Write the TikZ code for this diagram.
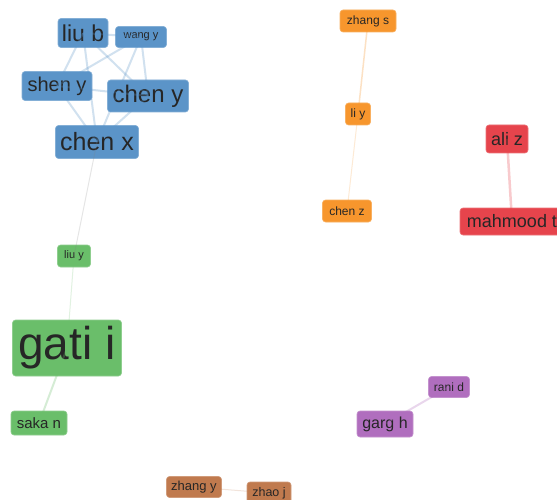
\documentclass[tikz,border=0pt]{standalone}
\usepackage{fontspec}
\setmainfont{Liberation Sans}
\usepackage{tikz}

\definecolor{clblue}{RGB}{91,148,200}
\definecolor{clgreen}{RGB}{106,190,106}
\definecolor{clorange}{RGB}{247,150,45}
\definecolor{clred}{RGB}{230,68,76}
\definecolor{clpurple}{RGB}{176,110,190}
\definecolor{clbrown}{RGB}{192,122,78}
\newcommand{\aufs}[1]{\fontsize{#1}{#1}\selectfont}

\begin{document}
\begin{tikzpicture}[x=1pt,y=-1pt,
	au/.style={fill=#1, draw=#1!75!white, line width=0.6pt, rounded corners=3pt,
		inner sep=0pt, text=black!85},
	lk/.style={draw=#1, line width=2pt, opacity=0.28},
	flk/.style={draw=#1, line width=1pt, opacity=0.2}]
				\clip (0,0) rectangle (557,500);
				\fill[white] (0,0) rectangle (557,500);
				% blue cluster
				\node[au=clblue, minimum width=50, minimum height=29, font=\aufs{23}] (liub) at (83,33) {liu b};
				\node[au=clblue, minimum width=51, minimum height=21, font=\aufs{11}] (wangy) at (141,37) {wang y};
				\node[au=clblue, minimum width=70, minimum height=29, font=\aufs{20}] (sheny) at (57,86) {shen y};
				\node[au=clblue, minimum width=81, minimum height=32, font=\aufs{24}] (cheny) at (148,96) {chen y};
				\node[au=clblue, minimum width=83, minimum height=33, font=\aufs{25}] (chenx) at (97,142) {chen x};
				% orange
				\node[au=clorange, minimum width=56, minimum height=22, font=\aufs{12}] (zhangs) at (368,21) {zhang s};
				\node[au=clorange, minimum width=25, minimum height=22, font=\aufs{12}] (liyy) at (358,114) {li y};
				\node[au=clorange, minimum width=49, minimum height=22, font=\aufs{12}] (chenz) at (347,211) {chen z};
				% red
				\node[au=clred, minimum width=42, minimum height=28, font=\aufs{18}] (aliz) at (507,139) {ali z};
				\node[au=clred, minimum width=104, minimum height=27, font=\aufs{18}] (mahmoodt) at (512,221.5) {mahmood t};
				% green
				\node[au=clgreen, minimum width=33, minimum height=22, font=\aufs{11}] (liuy) at (74,256) {liu y};
				\node[au=clgreen, minimum width=109, minimum height=56, font=\aufs{46}] (gatii) at (67,348) {gati i};
				\node[au=clgreen, minimum width=56, minimum height=24, font=\aufs{15}] (sakan) at (39,423) {saka n};
				% purple
				\node[au=clpurple, minimum width=41, minimum height=21, font=\aufs{12}] (ranid) at (449,387) {rani d};
				\node[au=clpurple, minimum width=56, minimum height=26, font=\aufs{16}] (gargh) at (385,424) {garg h};
				% brown
				\node[au=clbrown, minimum width=55, minimum height=21, font=\aufs{13}] (zhangy) at (194,487) {zhang y};
				\node[au=clbrown, minimum width=44, minimum height=22, font=\aufs{12.5}] (zhaoj) at (269,493) {zhao j};

				\foreach \a/\b in {liub/wangy, liub/sheny, liub/cheny, liub/chenx, wangy/sheny, wangy/cheny,
					wangy/chenx, sheny/cheny, sheny/chenx, cheny/chenx}
					\draw[lk=clblue] (\a.center) -- (\b.center);
				\draw[flk=gray] (chenx.center) -- (liuy.center);
				\draw[flk=clgreen] (liuy.center) -- (gatii.center);
				\draw[lk=clgreen] (gatii.center) -- (sakan.center);
				\draw[lk=clorange, line width=1.5pt] (zhangs.center) -- (liyy.center);
				\draw[flk=clorange] (liyy.center) -- (chenz.center);
				\draw[lk=clred, line width=2.5pt] (aliz.center) -- (mahmoodt.center);
				\draw[lk=clpurple] (ranid.center) -- (gargh.center);
				\draw[flk=clbrown] (zhangy.center) -- (zhaoj.center);
				\end{tikzpicture}
\end{document}
